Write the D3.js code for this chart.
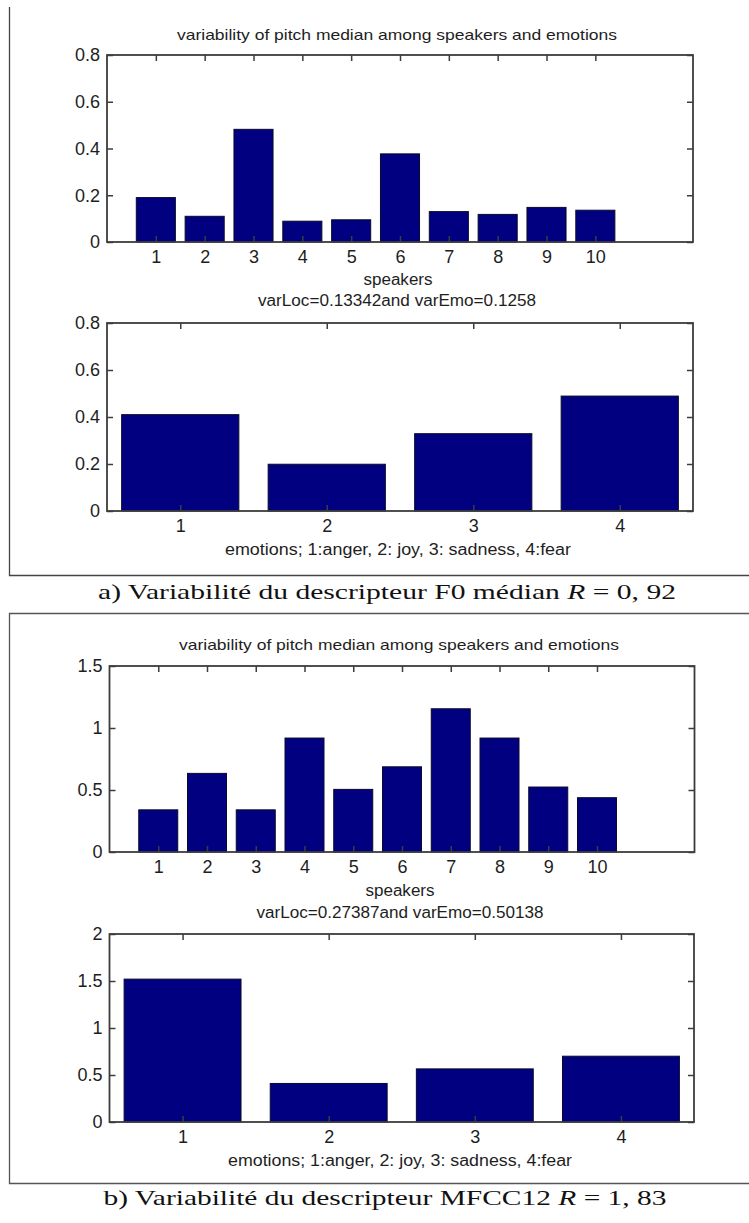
<!DOCTYPE html>
<html><head><meta charset="utf-8">
<script src="https://cdn.jsdelivr.net/npm/d3@7"></script>
<style>
body{margin:0;background:#fff}
svg text{font-family:"Liberation Sans",Arial,Helvetica,sans-serif;fill:#1e1e1e}
svg text.cap{font-family:"Liberation Serif","DejaVu Serif",serif;fill:#111}
</style>
</head><body><svg id="chart" width="749" height="1223"></svg>
<script>
// ---------------- data ----------------
const speakerCategories = [1, 2, 3, 4, 5, 6, 7, 8, 9, 10];
const emotionCategories = [1, 2, 3, 4];
const f0SpeakerValues = [0.19, 0.11, 0.482, 0.089, 0.095, 0.377, 0.13, 0.118, 0.148, 0.136];
const f0EmotionValues = [0.41, 0.199, 0.329, 0.489];
const mfccSpeakerValues = [0.34, 0.634, 0.34, 0.919, 0.505, 0.687, 1.155, 0.919, 0.524, 0.438];
const mfccEmotionValues = [1.52, 0.41, 0.565, 0.70];
const f0YTicks = [0, 0.2, 0.4, 0.6, 0.8];
const mfccSpeakerYTicks = [0, 0.5, 1, 1.5];
const mfccEmotionYTicks = [0, 0.5, 1, 1.5, 2];
const plotTitle = "variability of pitch median among speakers and emotions";
const speakerAxisLabel = "speakers";
const emotionAxisLabel = "emotions; 1:anger, 2: joy, 3: sadness, 4:fear";
const f0VarText = "varLoc=0.13342and varEmo=0.1258";
const mfccVarText = "varLoc=0.27387and varEmo=0.50138";
const captionA = ["a) Variabilité du descripteur F0 médian ", "R", " = 0, 92"];
const captionB = ["b) Variabilité du descripteur MFCC12 ", "R", " = 1, 83"];

// ---------------- drawing ----------------
const svg = d3.select("#chart");
svg.append("rect").attr("width", 749).attr("height", 1223).attr("fill", "#fff");
const fmt = d => d3.format("~g")(d);
const AXIS = "#3c3c3c";

function centeredText(txt, cx, cy, size, width) {
  const t = svg.append("text").attr("x", cx).attr("y", cy).attr("dy", "0.35em")
    .attr("text-anchor", "middle").style("font-size", size + "px").text(txt);
  if (width) t.attr("textLength", width).attr("lengthAdjust", "spacingAndGlyphs");
  return t;
}

function barPanel(o) {
  const x = d3.scaleLinear().domain(o.xDomain).range([o.left, o.right]);
  const y = d3.scaleLinear().domain(o.yDomain).range([o.bottom, o.top]);
  const g = svg.append("g");
  const bw = x(0.8) - x(0);
  g.selectAll("rect.bar").data(o.categories).join("rect").attr("class", "bar")
    .attr("x", (d) => x(d) - bw / 2)
    .attr("width", bw)
    .attr("y", (d, i) => y(o.values[i]))
    .attr("height", (d, i) => y(0) - y(o.values[i]))
    .attr("fill", "#000080").attr("stroke", "#0a0a2a").attr("stroke-width", 1);

  const axL = d3.axisLeft(y).tickValues(o.yTicks).tickSizeInner(-6).tickSizeOuter(0).tickPadding(7).tickFormat(fmt);
  const axR = d3.axisRight(y).tickValues(o.yTicks).tickSizeInner(-6).tickSizeOuter(0).tickFormat("");
  const axB = d3.axisBottom(x).tickValues(o.categories).tickSizeInner(-6).tickSizeOuter(0).tickPadding(8).tickFormat(d3.format("d"));
  const axT = d3.axisTop(x).tickValues(o.categories).tickSizeInner(-6).tickSizeOuter(0).tickFormat("");
  const style = s => {
    s.select(".domain").remove();
    s.selectAll("line").attr("stroke", AXIS).attr("stroke-width", 1.5);
    s.selectAll("text").attr("fill", "#222").style("font-size", "18px").style("font-family", '"Liberation Sans",Arial,sans-serif');
  };
  g.append("g").attr("transform", `translate(${o.left},0)`).call(axL).call(style);
  g.append("g").attr("transform", `translate(${o.right},0)`).call(axR).call(style);
  g.append("g").attr("transform", `translate(0,${o.bottom})`).call(axB).call(style);
  g.append("g").attr("transform", `translate(0,${o.top})`).call(axT).call(style);
  g.append("rect").attr("x", o.left).attr("y", o.top)
    .attr("width", o.right - o.left).attr("height", o.bottom - o.top)
    .attr("fill", "none").attr("stroke", AXIS).attr("stroke-width", 1.8);
}

function caption(parts, cx, baseline, width) {
  const t = svg.append("text").attr("class", "cap").attr("x", cx).attr("y", baseline)
    .attr("text-anchor", "middle").style("font-size", "22px")
    .attr("textLength", width).attr("lengthAdjust", "spacingAndGlyphs");
  t.append("tspan").text(parts[0]);
  t.append("tspan").style("font-style", "italic").text(parts[1]);
  t.append("tspan").text(parts[2]);
}

function frame(path, color) {
  svg.append("path").attr("d", path).attr("fill", "none").attr("stroke", color).attr("stroke-width", 1.3);
}

// ----- panel a -----
frame("M9.5,7 V575.5 H749", "#444");
centeredText(plotTitle, 397, 35, 15, 440);
barPanel({left: 107, right: 693, top: 55, bottom: 242, xDomain: [0, 12], yDomain: [0, 0.8],
  categories: speakerCategories, values: f0SpeakerValues, yTicks: f0YTicks});
centeredText(speakerAxisLabel, 398, 279, 16, 69);
centeredText(f0VarText, 397, 300, 16, 278);
barPanel({left: 107, right: 693, top: 323, bottom: 511, xDomain: [0.5, 4.5], yDomain: [0, 0.8],
  categories: emotionCategories, values: f0EmotionValues, yTicks: f0YTicks});
centeredText(emotionAxisLabel, 398, 549, 16, 346);
caption(captionA, 387, 599, 578);

// ----- panel b -----
frame("M749,613.5 H9.5 V1183.5 H749", "#555");
centeredText(plotTitle, 399, 645, 15, 440);
barPanel({left: 109.5, right: 694.5, top: 666, bottom: 852, xDomain: [0, 12], yDomain: [0, 1.5],
  categories: speakerCategories, values: mfccSpeakerValues, yTicks: mfccSpeakerYTicks});
centeredText(speakerAxisLabel, 400, 890, 16, 69);
centeredText(mfccVarText, 400, 912, 16, 287);
barPanel({left: 109.5, right: 694, top: 934, bottom: 1122, xDomain: [0.5, 4.5], yDomain: [0, 2],
  categories: emotionCategories, values: mfccEmotionValues, yTicks: mfccEmotionYTicks});
centeredText(emotionAxisLabel, 400, 1160, 16, 344);
caption(captionB, 385, 1205, 563);
</script>
</body></html>
